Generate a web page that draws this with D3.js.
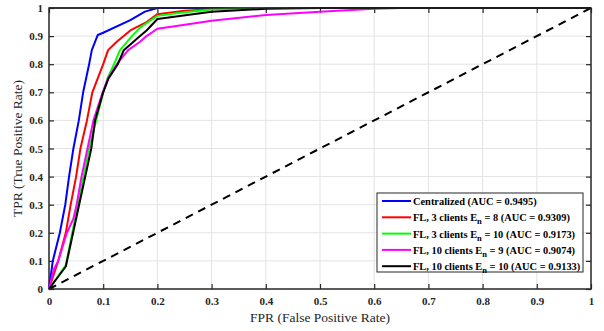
<!DOCTYPE html>
<html>
<head>
<meta charset="utf-8">
<script src="https://cdn.jsdelivr.net/npm/d3@7"></script>
<style>
  body { margin: 0; background: #fff; }
  svg text { font-family: "Liberation Serif", "Times New Roman", serif; }
</style>
</head>
<body>
<div id="chart"></div>
<script>
// ROC curves (FPR, TPR)
const centralized = [[0,0],[0.007,0.1],[0.02,0.2],[0.03,0.3],[0.037,0.4],[0.045,0.5],[0.055,0.6],[0.063,0.7],[0.074,0.8],[0.079,0.85],[0.09,0.904],[0.1,0.912],[0.15,0.957],[0.177,0.987],[0.2,1],[1,1]];
const fl3e8 = [[0,0],[0.017,0.1],[0.031,0.2],[0.04,0.3],[0.05,0.4],[0.058,0.5],[0.07,0.6],[0.08,0.7],[0.1,0.8],[0.109,0.85],[0.125,0.88],[0.15,0.92],[0.18,0.95],[0.2,0.978],[0.25,0.99],[0.3,0.996],[0.35,1],[1,1]];
const fl3e10 = [[0,0],[0.031,0.085],[0.074,0.5],[0.087,0.6],[0.1,0.7],[0.108,0.75],[0.12,0.8],[0.131,0.85],[0.153,0.9],[0.168,0.93],[0.183,0.95],[0.2,0.972],[0.25,0.985],[0.3,0.995],[0.35,1],[1,1]];
const fl10e9 = [[0,0],[0.009,0.07],[0.017,0.1],[0.033,0.2],[0.045,0.25],[0.051,0.3],[0.06,0.4],[0.071,0.5],[0.082,0.6],[0.099,0.7],[0.109,0.75],[0.125,0.8],[0.146,0.85],[0.168,0.88],[0.18,0.9],[0.2,0.926],[0.26,0.943],[0.3,0.955],[0.4,0.975],[0.5,0.987],[0.6,0.997],[0.65,1],[1,1]];
const fl10e10 = [[0,0],[0.031,0.08],[0.078,0.5],[0.085,0.6],[0.1,0.7],[0.11,0.75],[0.127,0.8],[0.138,0.85],[0.168,0.9],[0.18,0.92],[0.2,0.961],[0.3,0.987],[0.4,0.997],[0.5,1],[1,1]];
const chance = [[0,0],[1,1]];

const seriesNames = ["Centralized (AUC = 0.9495)", "FL, 3 clients E_n = 8 (AUC = 0.9309)", "FL, 3 clients E_n = 10 (AUC = 0.9173)", "FL, 10 clients E_n = 9 (AUC = 0.9074)", "FL, 10 clients E_n = 10 (AUC = 0.9133)"];
const seriesColors = ["#0000ff", "#ff0000", "#00ff00", "#ff00ff", "#000000"];
const seriesData = [centralized, fl3e8, fl3e10, fl10e9, fl10e10];
const ticks = [0,0.1,0.2,0.3,0.4,0.5,0.6,0.7,0.8,0.9,1];

const W = 604, H = 331;
const margin = {left: 49, right: 13, top: 8, bottom: 42};
const w = W - margin.left - margin.right, h = H - margin.top - margin.bottom;

const svg = d3.select("#chart").append("svg").attr("width", W).attr("height", H);
const g = svg.append("g").attr("transform", "translate(" + margin.left + "," + margin.top + ")");

const x = d3.scaleLinear().domain([0, 1]).range([0, w]);
const y = d3.scaleLinear().domain([0, 1]).range([h, 0]);
const fmt = d => d === 0 ? "0" : d === 1 ? "1" : d3.format(".1f")(d);

// grid
g.append("g").selectAll("line").data(ticks.slice(1, -1)).enter().append("line")
  .attr("x1", d => x(d)).attr("x2", d => x(d)).attr("y1", 0).attr("y2", h)
  .attr("stroke", "#e3e3e3").attr("stroke-width", 1);
g.append("g").selectAll("line").data(ticks.slice(1, -1)).enter().append("line")
  .attr("y1", d => y(d)).attr("y2", d => y(d)).attr("x1", 0).attr("x2", w)
  .attr("stroke", "#e3e3e3").attr("stroke-width", 1);

// axes, ticks inward on all sides
function styleAxis(sel) {
  sel.select(".domain").remove();
  sel.selectAll("line").attr("stroke", "#262626").attr("stroke-width", 1.2);
  sel.selectAll("text").attr("font-size", 11).attr("font-weight", "bold").attr("fill", "#262626")
    .style("font-family", "'Liberation Serif', serif");
}
g.append("g").attr("transform", "translate(0," + h + ")")
  .call(d3.axisBottom(x).tickValues(ticks).tickFormat(fmt).tickSizeInner(-5).tickSizeOuter(0).tickPadding(8))
  .call(styleAxis);
g.append("g")
  .call(d3.axisLeft(y).tickValues(ticks).tickFormat(fmt).tickSizeInner(-5).tickSizeOuter(0).tickPadding(6))
  .call(styleAxis);
g.append("g")
  .call(d3.axisTop(x).tickValues(ticks).tickFormat("").tickSizeInner(-5).tickSizeOuter(0))
  .call(styleAxis);
g.append("g").attr("transform", "translate(" + w + ",0)")
  .call(d3.axisRight(y).tickValues(ticks).tickFormat("").tickSizeInner(-5).tickSizeOuter(0))
  .call(styleAxis);

// frame
g.append("rect").attr("width", w).attr("height", h)
  .attr("fill", "none").attr("stroke", "#262626").attr("stroke-width", 1.5);

const line = d3.line().x(d => x(d[0])).y(d => y(d[1]));

g.append("path").datum(chance).attr("d", line)
  .attr("fill", "none").attr("stroke", "#000").attr("stroke-width", 2).attr("stroke-dasharray", "8,6");

seriesData.forEach((s, i) => {
  g.append("path").datum(s).attr("d", line)
    .attr("fill", "none").attr("stroke", seriesColors[i]).attr("stroke-width", 2)
    .attr("stroke-linejoin", "round");
});

// re-draw top border over curves
g.append("line").attr("x1", 0).attr("x2", w).attr("y1", 0).attr("y2", 0)
  .attr("stroke", "#262626").attr("stroke-width", 1.5);

// legend
const leg = svg.append("g").attr("transform", "translate(377,193)");
leg.append("rect").attr("width", 206).attr("height", 79)
  .attr("fill", "#fff").attr("stroke", "#262626").attr("stroke-width", 1);
seriesNames.forEach((name, i) => {
  const ly = 8 + i * 16.3;
  leg.append("line").attr("x1", 5).attr("x2", 34).attr("y1", ly).attr("y2", ly)
    .attr("stroke", seriesColors[i]).attr("stroke-width", 2);
  const t = leg.append("text").attr("x", 36).attr("y", ly + 4)
    .attr("font-size", 10.4).attr("font-weight", "bold").attr("fill", "#000");
  const parts = name.split("E_n");
  if (parts.length > 1) {
    t.append("tspan").text(parts[0] + "E");
    t.append("tspan").attr("dy", 3).attr("font-size", 8.5).text("n");
    t.append("tspan").attr("dy", -3).text(parts[1]);
  } else {
    t.text(name);
  }
});

// axis labels
svg.append("text").attr("x", margin.left + w / 2).attr("y", 322)
  .attr("text-anchor", "middle").attr("font-size", 13.5).attr("fill", "#262626")
  .text("FPR (False Positive Rate)");
svg.append("text").attr("transform", "translate(22," + (margin.top + h / 2) + ")rotate(-90)")
  .attr("text-anchor", "middle").attr("font-size", 13.5).attr("fill", "#262626")
  .text("TPR (True Positive Rate)");
</script>
</body>
</html>
